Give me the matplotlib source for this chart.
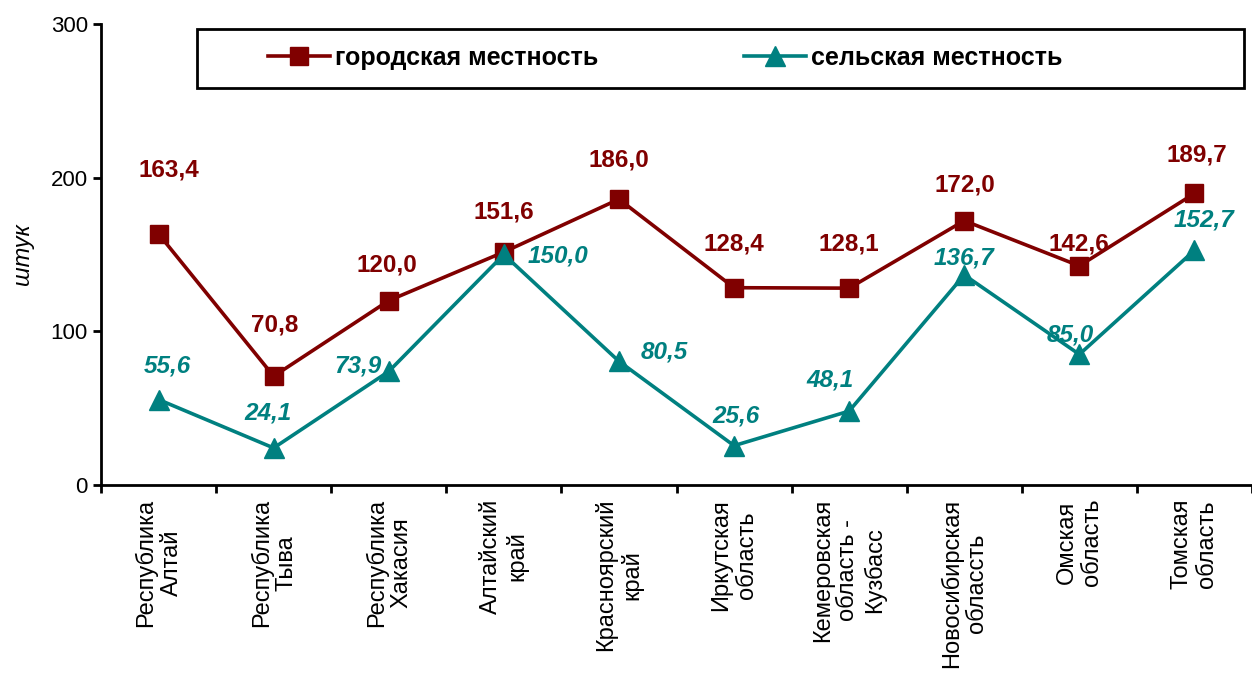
import matplotlib
matplotlib.use("Agg")
import matplotlib.pyplot as plt
from matplotlib.patches import Rectangle

plt.rcParams['font.family'] = ['Liberation Sans', 'DejaVu Sans']

regions = ["Республика\nАлтай", "Республика\nТыва", "Республика\nХакасия", "Алтайский\nкрай",
           "Красноярский\nкрай", "Иркутская\nобласть", "Кемеровская\nобласть -\nКузбасс",
           "Новосибирская\nоблассть", "Омская\nобласть", "Томская\nобласть"]
urban = [163.4, 70.8, 120.0, 151.6, 186.0, 128.4, 128.1, 172.0, 142.6, 189.7]
rural = [55.6, 24.1, 73.9, 150.0, 80.5, 25.6, 48.1, 136.7, 85.0, 152.7]
urban_name = "городская местность"
rural_name = "сельская местность"

red = "#800000"
teal = "#008080"

# label offsets in pixels (dx, dy)
urban_off = [(10, 64), (1, 51), (-2, 36), (0, 40), (0, 39), (0, 44), (0, 44), (1, 36), (0, 22), (2, 38)]
rural_off = [(9, 34), (-6, 35), (-31, 5), (54, -2), (45, 9), (2, 30), (-19, 31), (0, 17), (-9, 19), (10, 30)]

fig = plt.figure(figsize=(12.52, 6.75), dpi=100)
ax = fig.add_axes([101 / 1252, 1 - 485 / 675, 1151 / 1252, 461 / 675])

x = list(range(len(regions)))
ax.plot(x, urban, color=red, lw=2.6, marker="s", ms=13, label=urban_name, zorder=3)
ax.plot(x, rural, color=teal, lw=2.6, marker="^", ms=14, label=rural_name, zorder=3)

for i in x:
    ax.annotate(f"{urban[i]:.1f}".replace(".", ","), (i, urban[i]), xytext=urban_off[i],
                textcoords="offset pixels", ha="center", va="center", color=red,
                fontsize=17.5, fontweight="bold")
    ax.annotate(f"{rural[i]:.1f}".replace(".", ","), (i, rural[i]), xytext=rural_off[i],
                textcoords="offset pixels", ha="center", va="center", color=teal,
                fontsize=17.5, fontweight="bold", fontstyle="italic")

ax.set_xlim(-0.5, len(regions) - 0.5)
ax.set_ylim(0, 300)
ax.set_yticks([0, 100, 200, 300])
ax.tick_params(axis="y", labelsize=16, width=2, length=6)
ax.set_xticks([i - 0.5 for i in range(len(regions) + 1)], minor=False)
ax.set_xticklabels([])
ax.set_xticks(x, minor=True)
ax.set_xticklabels(regions, minor=True, rotation=90, fontsize=17, va="top", ha="center",
                   multialignment="center", linespacing=1.18)
ax.tick_params(axis="x", which="major", width=2, length=6)
ax.tick_params(axis="x", which="minor", length=0, pad=10)
for s in ["top", "right"]:
    ax.spines[s].set_visible(False)
for s in ["left", "bottom"]:
    ax.spines[s].set_linewidth(2)

ax.set_ylabel("штук", fontsize=17, fontstyle="italic", labelpad=12)

# legend frame drawn separately, entries placed without frame
ax.add_patch(Rectangle((96 / 1152, 397 / 461), 1048 / 1152, 59 / 461, transform=ax.transAxes,
                       fill=True, facecolor="white", edgecolor="black", lw=2, zorder=4,
                       clip_on=False))
leg = ax.legend(loc="center left", bbox_to_anchor=(167 / 1152, 427 / 461), ncol=2,
                frameon=False, borderpad=0, borderaxespad=0,
                prop={"size": 18, "weight": "bold"}, handlelength=2.5, handletextpad=0.2,
                columnspacing=5.8)
leg.set_zorder(5)

fig.savefig("out.png", dpi=100)
